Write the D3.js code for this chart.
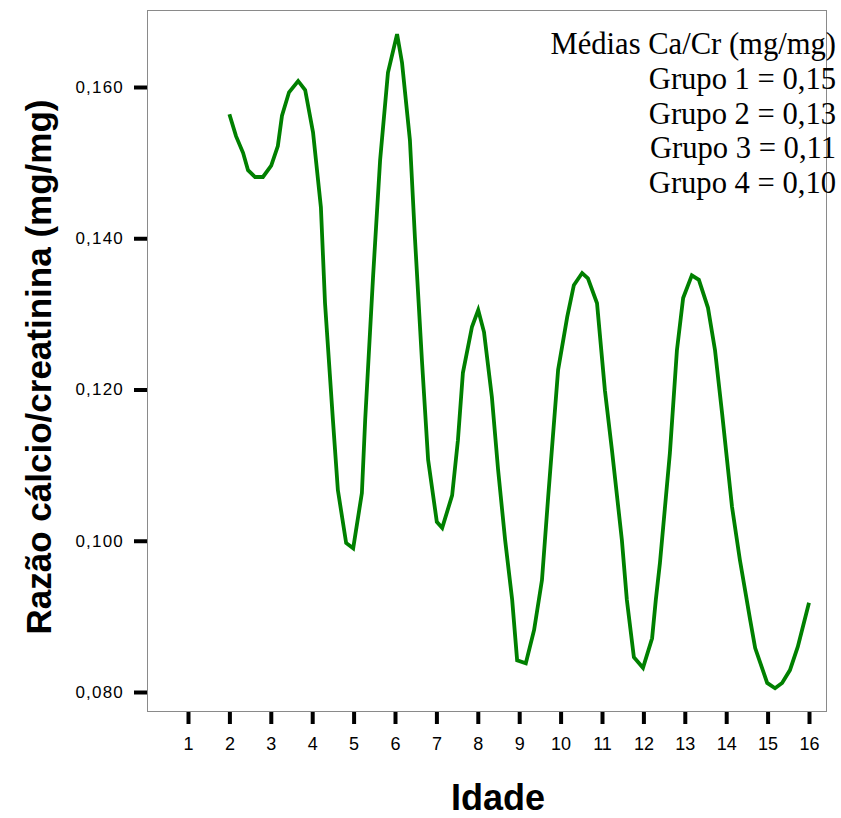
<!DOCTYPE html>
<html>
<head>
<meta charset="utf-8">
<script src="https://cdn.jsdelivr.net/npm/d3@7"></script>
<style>
  html, body { margin: 0; padding: 0; background: #fff; }
  svg { display: block; }
</style>
</head>
<body>
<svg id="chart" width="841" height="818"></svg>
<script>
// Smoothed mean calcium/creatinine ratio by age
const ages = [
  2.00, 2.16, 2.33, 2.45, 2.62, 2.81, 3.01, 3.17, 3.27, 3.44,
  3.66, 3.83, 4.02, 4.21, 4.31, 4.50, 4.62, 4.82, 4.99, 5.20,
  5.28, 5.47, 5.64, 5.83, 6.05, 6.17, 6.36, 6.48, 6.65, 6.80,
  7.01, 7.14, 7.38, 7.52, 7.64, 7.86, 8.01, 8.15, 8.34, 8.49,
  8.66, 8.83, 8.95, 9.16, 9.36, 9.55, 9.70, 9.94, 10.16, 10.32,
  10.52, 10.66, 10.88, 11.07, 11.24, 11.48, 11.60, 11.77, 11.99, 12.21,
  12.30, 12.40, 12.64, 12.81, 12.96, 13.17, 13.34, 13.56, 13.73, 13.90,
  14.14, 14.33, 14.58, 14.70, 14.99, 15.18, 15.35, 15.54, 15.73, 16.00
];
const ratios = [
  0.1564, 0.1535, 0.1513, 0.1490, 0.1481, 0.1481, 0.1496, 0.1522, 0.1562, 0.1593,
  0.1608, 0.1596, 0.1540, 0.1441, 0.1314, 0.1160, 0.1067, 0.0997, 0.0990, 0.1063,
  0.1160, 0.1349, 0.1503, 0.1619, 0.1670, 0.1632, 0.1530, 0.1402, 0.1239, 0.1107,
  0.1025, 0.1017, 0.1060, 0.1133, 0.1222, 0.1283, 0.1305, 0.1276, 0.1190, 0.1094,
  0.1001, 0.0922, 0.0842, 0.0838, 0.0882, 0.0948, 0.1058, 0.1226, 0.1296, 0.1338,
  0.1354, 0.1347, 0.1314, 0.1199, 0.1120, 0.1001, 0.0922, 0.0846, 0.0832, 0.0871,
  0.0922, 0.0971, 0.1116, 0.1252, 0.1321, 0.1351, 0.1345, 0.1308, 0.1252, 0.1169,
  0.1045, 0.0975, 0.0895, 0.0858, 0.0812, 0.0805, 0.0812, 0.0829, 0.0860, 0.0918
];
const xTicks = d3.range(1, 17);
const yTicks = [0.08, 0.10, 0.12, 0.14, 0.16];
const legendLines = [
  "Médias Ca/Cr (mg/mg)",
  "Grupo 1 = 0,15",
  "Grupo 2 = 0,13",
  "Grupo 3 = 0,11",
  "Grupo 4 = 0,10"
];
const xTitle = "Idade";
const yTitle = "Razão cálcio/creatinina (mg/mg)";

const svg = d3.select("#chart");
const frame = { left: 147, top: 10, right: 826, bottom: 711 };

const x = d3.scaleLinear().domain([1, 16]).range([188, 809]);
const y = d3.scaleLinear().domain([0.08, 0.16]).range([692, 87]);

// plot frame
svg.append("rect")
  .attr("x", frame.left + 0.5).attr("y", frame.top + 0.5)
  .attr("width", frame.right - frame.left).attr("height", frame.bottom - frame.top)
  .attr("fill", "none").attr("stroke", "#8a8a8a").attr("stroke-width", 1);

const fmt = v => d3.format(".3f")(v).replace(".", ",");

// y axis
const yAxis = svg.append("g")
  .attr("transform", `translate(${frame.left},0)`)
  .call(d3.axisLeft(y).tickValues(yTicks).tickFormat(fmt).tickSize(13).tickPadding(10));
yAxis.select(".domain").remove();
yAxis.selectAll(".tick line").attr("stroke", "#000").attr("stroke-width", 4);
yAxis.selectAll(".tick text")
  .attr("font-family", "Liberation Sans, Arial, sans-serif")
  .attr("font-size", 17).attr("letter-spacing", 1.2).attr("fill", "#000");

// x axis
const xAxis = svg.append("g")
  .attr("transform", `translate(0,${frame.bottom + 1})`)
  .call(d3.axisBottom(x).tickValues(xTicks).tickFormat(d3.format("d")).tickSize(12).tickPadding(13));
xAxis.select(".domain").remove();
xAxis.selectAll(".tick line").attr("stroke", "#000").attr("stroke-width", 4);
xAxis.selectAll(".tick text")
  .attr("font-family", "Liberation Sans, Arial, sans-serif")
  .attr("font-size", 18).attr("fill", "#000");

// curve
const pts = ages.map((a, i) => [a, ratios[i]]);
svg.append("path")
  .datum(pts)
  .attr("fill", "none")
  .attr("stroke", "#008000")
  .attr("stroke-width", 3.8)
  .attr("stroke-linejoin", "miter")
  .attr("d", d3.line().x(d => x(d[0])).y(d => y(d[1])));

// axis titles
svg.append("text")
  .attr("x", 498).attr("y", 810)
  .attr("text-anchor", "middle")
  .attr("font-family", "Liberation Sans, Arial, sans-serif")
  .attr("font-weight", "bold").attr("font-size", 36)
  .text(xTitle);

svg.append("text")
  .attr("transform", "translate(51,367) rotate(-90)")
  .attr("text-anchor", "middle")
  .attr("font-family", "Liberation Sans, Arial, sans-serif")
  .attr("font-weight", "bold").attr("font-size", 35)
  .text(yTitle);

// means annotation
svg.append("g").selectAll("text")
  .data(legendLines)
  .join("text")
  .attr("x", 836)
  .attr("y", (d, i) => 54 + i * 34.8)
  .attr("text-anchor", "end")
  .attr("font-family", "Liberation Serif, Times New Roman, serif")
  .attr("font-size", 30.6)
  .attr("fill", "#000")
  .text(d => d);
</script>
</body>
</html>
